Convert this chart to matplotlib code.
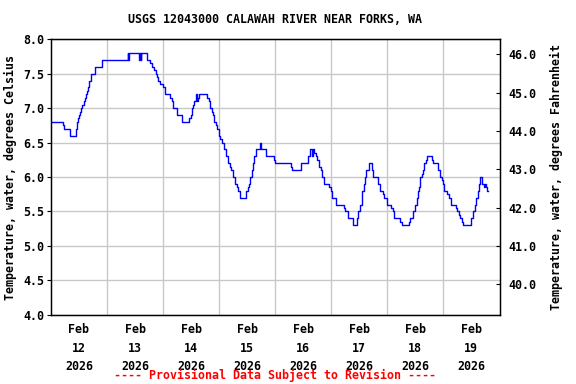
import matplotlib
matplotlib.use("Agg")
import matplotlib.pyplot as plt
import pandas as pd

# hours after Feb 12 2026 00:00 where the reading changes, and the reading (deg C)
hours = [0, 5.1, 5.5, 8.0, 10.8, 11.3, 11.7, 12.0, 12.5, 13.0, 13.5, 14.0, 14.4, 14.8,
         15.3, 15.8, 16.3, 17.0, 18.7, 22.0, 32.8, 33.2, 33.6, 37.8, 38.0, 38.5, 38.7,
         41.0, 42.4, 43.4, 44.2, 44.8, 45.4, 45.9, 46.8, 48.1, 48.8, 51.0, 51.7, 52.4,
         54.1, 56.0, 59.3, 59.9, 60.6, 61.0, 61.4, 61.9, 62.4, 62.9, 63.6, 66.8, 67.5,
         68.2, 68.9, 69.6, 70.0, 70.8, 71.3, 71.9, 72.5, 73.2, 73.9, 74.9, 75.8, 76.5,
         77.1, 77.9, 78.9, 79.6, 80.3, 81.1, 83.5, 84.2, 84.6, 85.4, 86.1, 86.5, 87.1,
         87.8, 89.7, 90.0, 92.0, 95.4, 95.8, 102.9, 103.3, 107.2, 110.0, 110.9, 111.9,
         112.2, 112.6, 113.3, 114.1, 114.8, 115.5, 115.9, 116.9, 119.1, 119.8, 120.5,
         121.9, 125.5, 126.1, 127.0, 129.4, 131.0, 131.7, 132.3, 133.0, 133.4, 134.1,
         134.5, 135.1, 136.0, 137.3, 138.0, 140.1, 141.0, 142.3, 142.8, 144.0, 145.6,
         146.3, 147.0, 149.6, 150.2, 153.5, 153.9, 155.2, 156.0, 156.8, 157.3, 157.8,
         158.2, 158.8, 159.2, 159.9, 160.6, 161.1, 163.1, 163.5, 165.9, 166.8, 167.5,
         168.1, 168.5, 169.5, 170.4, 171.4, 173.5, 174.0, 174.7, 175.3, 176.0, 176.4,
         180.0, 180.7, 181.4, 182.2, 182.9, 183.3, 183.9, 184.7, 185.5, 185.8, 186.2,
         186.6, 187.2]
temps = [6.8, 6.75, 6.7, 6.6, 6.7, 6.8, 6.85, 6.9, 6.95, 7.0, 7.05, 7.1, 7.15, 7.2,
         7.25, 7.3, 7.4, 7.5, 7.6, 7.7, 7.8, 7.7, 7.8, 7.7, 7.8, 7.7, 7.8,
         7.7, 7.65, 7.6, 7.55, 7.5, 7.45, 7.4, 7.35, 7.3, 7.2, 7.15, 7.1, 7.0,
         6.9, 6.8, 6.85, 6.9, 7.0, 7.05, 7.1, 7.2, 7.1, 7.15, 7.2, 7.15, 7.1,
         7.0, 6.95, 6.9, 6.8, 6.75, 6.7, 6.6, 6.55, 6.5, 6.4, 6.3, 6.2, 6.15,
         6.1, 6.0, 5.9, 5.85, 5.8, 5.7, 5.8, 5.85, 5.9, 6.0, 6.1, 6.2, 6.3,
         6.4, 6.5, 6.4, 6.3, 6.25, 6.2, 6.15, 6.1, 6.2, 6.3, 6.4, 6.3,
         6.4, 6.35, 6.3, 6.25, 6.15, 6.1, 6.0, 5.9, 5.85, 5.8, 5.7,
         5.6, 5.55, 5.5, 5.4, 5.3, 5.4, 5.5, 5.6, 5.7, 5.8, 5.9,
         6.0, 6.1, 6.2, 6.1, 6.0, 5.9, 5.8, 5.75, 5.7, 5.6, 5.55,
         5.5, 5.4, 5.35, 5.3, 5.35, 5.4, 5.5, 5.6, 5.7, 5.8, 5.85,
         6.0, 6.05, 6.1, 6.2, 6.25, 6.3, 6.25, 6.2, 6.1, 6.0, 5.95,
         5.9, 5.8, 5.75, 5.7, 5.6, 5.55, 5.5, 5.45, 5.4, 5.35, 5.3,
         5.4, 5.5, 5.6, 5.7, 5.8, 5.9, 6.0, 5.9, 5.85, 5.9, 5.85,
         5.8, 5.8]

start = pd.Timestamp("2026-02-12 00:00")
times = start + pd.to_timedelta(hours, unit="h")

c_ticks = [4.0, 4.5, 5.0, 5.5, 6.0, 6.5, 7.0, 7.5, 8.0]
f_ticks = [40.0, 41.0, 42.0, 43.0, 44.0, 45.0, 46.0]
day_labels = ["Feb\n12\n2026", "Feb\n13\n2026", "Feb\n14\n2026", "Feb\n15\n2026",
              "Feb\n16\n2026", "Feb\n17\n2026", "Feb\n18\n2026", "Feb\n19\n2026"]

mono = {"family": "DejaVu Sans Mono", "weight": "bold", "size": 8.4}

fig = plt.figure(figsize=(5.76, 3.84), dpi=100)
ax = fig.add_axes([0.0885, 0.18, 0.7795, 0.718])

ax.plot(times, temps, drawstyle="steps-post", color="#0000ff", lw=1.0)

ax.set_xlim(start, start + pd.Timedelta(hours=192.3))
ax.set_ylim(4.0, 8.0)

# gridlines at midnight, labels at noon
days = [start + pd.Timedelta(days=i) for i in range(1, 8)]
ax.set_xticks(days)
ax.set_xticklabels([])
ax.tick_params(axis="x", which="major", length=0)
noons = [start + pd.Timedelta(hours=12 + 24 * i) for i in range(8)]
ax.set_xticks(noons, minor=True)
ax.set_xticklabels(day_labels, minor=True, fontdict=mono, linespacing=1.55)
ax.tick_params(axis="x", which="minor", length=0, pad=6)

ax.set_yticks(c_ticks)
ax.set_yticklabels([f"{v:.1f}" for v in c_ticks], fontdict=mono)
ax.tick_params(axis="y", length=3, width=0.8, pad=2)
ax.grid(True, which="major", color="#c8c8c8", lw=1.0)
ax.set_axisbelow(True)
for s in ax.spines.values():
    s.set_linewidth(1.0)

ax.set_ylabel("Temperature, water, degrees Celsius", fontdict=mono, labelpad=4)

ax2 = ax.twinx()
ax2.set_ylim(4.0 * 1.8 + 32, 8.0 * 1.8 + 32)
ax2.set_yticks(f_ticks)
ax2.set_yticklabels([f"{v:.1f}" for v in f_ticks], fontdict=mono)
ax2.tick_params(axis="y", direction="in", length=3, width=0.8, pad=6)
ax2.set_ylabel("Temperature, water, degrees Fahrenheit", fontdict=mono, labelpad=10)

ax.set_title("USGS 12043000 CALAWAH RIVER NEAR FORKS, WA", fontdict=mono, pad=12)

fig.text(0.478, 0.021, "---- Provisional Data Subject to Revision ----",
         color="red", ha="center", va="center", **mono)

fig.savefig("out.png", dpi=100)
